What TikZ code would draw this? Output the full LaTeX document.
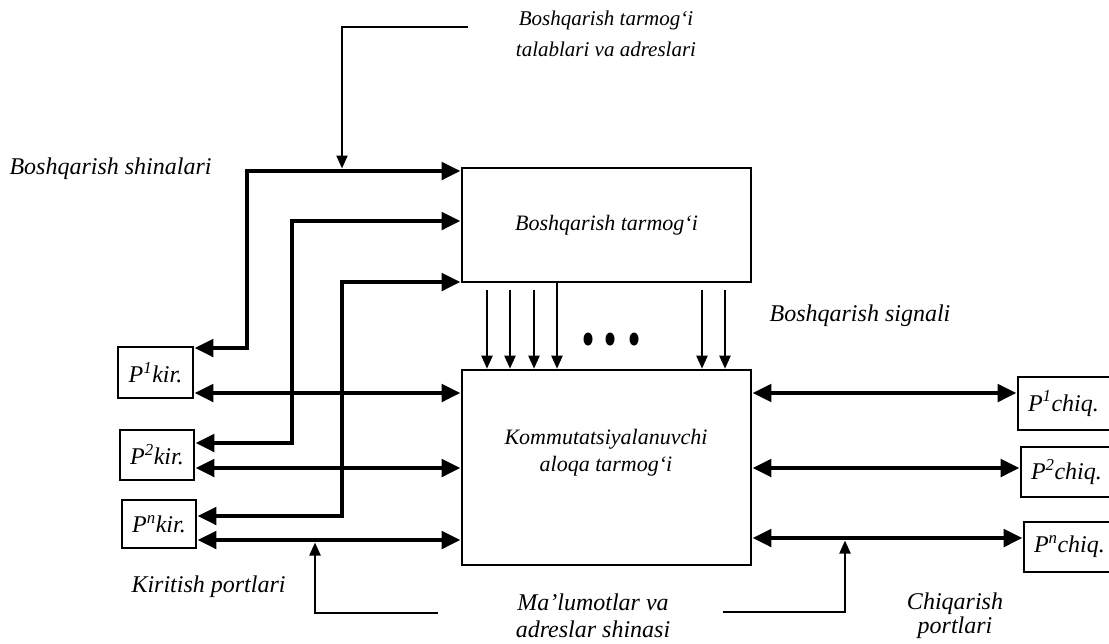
\documentclass[tikz,border=0pt]{standalone}
\usepackage{fontspec}
\setmainfont{Liberation Serif}
\usetikzlibrary{arrows.meta}
\begin{document}
\begin{tikzpicture}[x=1pt,y=-1pt,
  every node/.style={font=\fontsize{22}{27}\selectfont\itshape},
  big/.style={font=\fontsize{24}{27}\selectfont\itshape},
  box/.style={draw, line width=2.6pt, inner sep=0pt},
  pbox/.style={box, font=\fontsize{24}{27}\selectfont\itshape},
  rbox/.style={pbox, inner xsep=10pt, text width=80pt, align=left},
  dbl/.style={line width=4.8pt, {Triangle[length=19pt,width=17pt]}-{Triangle[length=19pt,width=17pt]}},
  thinarrow/.style={line width=2.2pt, -{Triangle[length=13pt,width=11pt]}},
  dot/.style={fill=black}
]
\useasboundingbox (0,0) rectangle (1109,643);
\clip (0,0) rectangle (1109,643);

% main blocks
\node[box, minimum width=289pt, minimum height=114pt] (ctrl) at (606.5,225) {Boshqarish tarmog‘i};
\node[box, minimum width=289pt, minimum height=195pt] (sw) at (606.5,467.5) {};
\node[align=center] (swlabel) at (606,453) {Kommutatsiyalanuvchi\\aloqa tarmog‘i};

% input ports
\node[pbox, minimum width=75pt, minimum height=51pt] (pk1) at (155.5,372.5) {P\textsuperscript{1}kir.};
\node[pbox, minimum width=74pt, minimum height=50pt] (pk2) at (157,455) {P\textsuperscript{2}kir.};
\node[pbox, minimum width=74pt, minimum height=48pt] (pkn) at (159,524) {P\textsuperscript{n}kir.};

% output ports
\node[rbox, minimum height=53pt] (pc1) at (1068,403.5) {P\textsuperscript{1}chiq.};
\node[rbox, minimum height=50pt] (pc2) at (1071,472) {P\textsuperscript{2}chiq.};
\node[rbox, minimum height=50pt] (pcn) at (1074,547) {P\textsuperscript{n}chiq.};

% data buses
\draw[dbl] (pk1.east |- 0,393) -- (sw.west |- 0,393);
\draw[dbl] (pk2.east |- 0,468) -- (sw.west |- 0,468);
\draw[dbl] (pkn.east |- 0,540) -- (sw.west |- 0,540);
\draw[dbl] (sw.east |- 0,393) -- (pc1.west |- 0,393);
\draw[dbl] (sw.east |- 0,468) -- (pc2.west |- 0,468);
\draw[dbl] (sw.east |- 0,538) -- (pcn.west |- 0,538);

% control buses
\draw[dbl] (pk1.east |- 0,348) -- (247,348) -- (247,171) -- (ctrl.west |- 0,171);
\draw[dbl] (pk2.east |- 0,443) -- (292,443) -- (292,221) -- (ctrl.west |- 0,221);
\draw[dbl] (pkn.east |- 0,516) -- (342,516) -- (342,282) -- (ctrl.west |- 0,282);

% feeders
\coordinate (tf) at (468,27);
\draw[thinarrow] (tf) -- (342,27) -- (342,168.5);
\coordinate (bl) at (438,613);
\draw[thinarrow] (bl) -- (315,613) -- (315,542.5);
\coordinate (br) at (723,612);
\draw[thinarrow] (br) -- (845,612) -- (845,540.5);

% control signals
\foreach \x in {487,510,534,702,725}
  \draw[thinarrow] (\x,290) -- (sw.north -| \x,0);
\draw[thinarrow] (ctrl.south -| 557,0) -- (sw.north -| 557,0);
\foreach \x in {588,610,634}
  \fill[dot] (\x,339) ellipse [x radius=4.5pt, y radius=6.5pt];

% labels
\node[align=center, font=\fontsize{21}{31}\selectfont\itshape] (reqlbl) at (606,34) {Boshqarish tarmog‘i\\talablari va adreslari};
\node[big, anchor=west] (shinlbl) at (6,169) {Boshqarish shinalari};
\node[big] (siglbl) at (860,316) {Boshqarish signali};
\node[big, anchor=west] (kirlbl) at (128,587) {Kiritish portlari};
\node[big, align=center] (datlbl) at (593,616) {Ma’lumotlar va\\adreslar shinasi};
\node[big, align=center, font=\fontsize{24}{24}\selectfont\itshape] (chiqlbl) at (955,616) {Chiqarish\\portlari};
\end{tikzpicture}
\end{document}
